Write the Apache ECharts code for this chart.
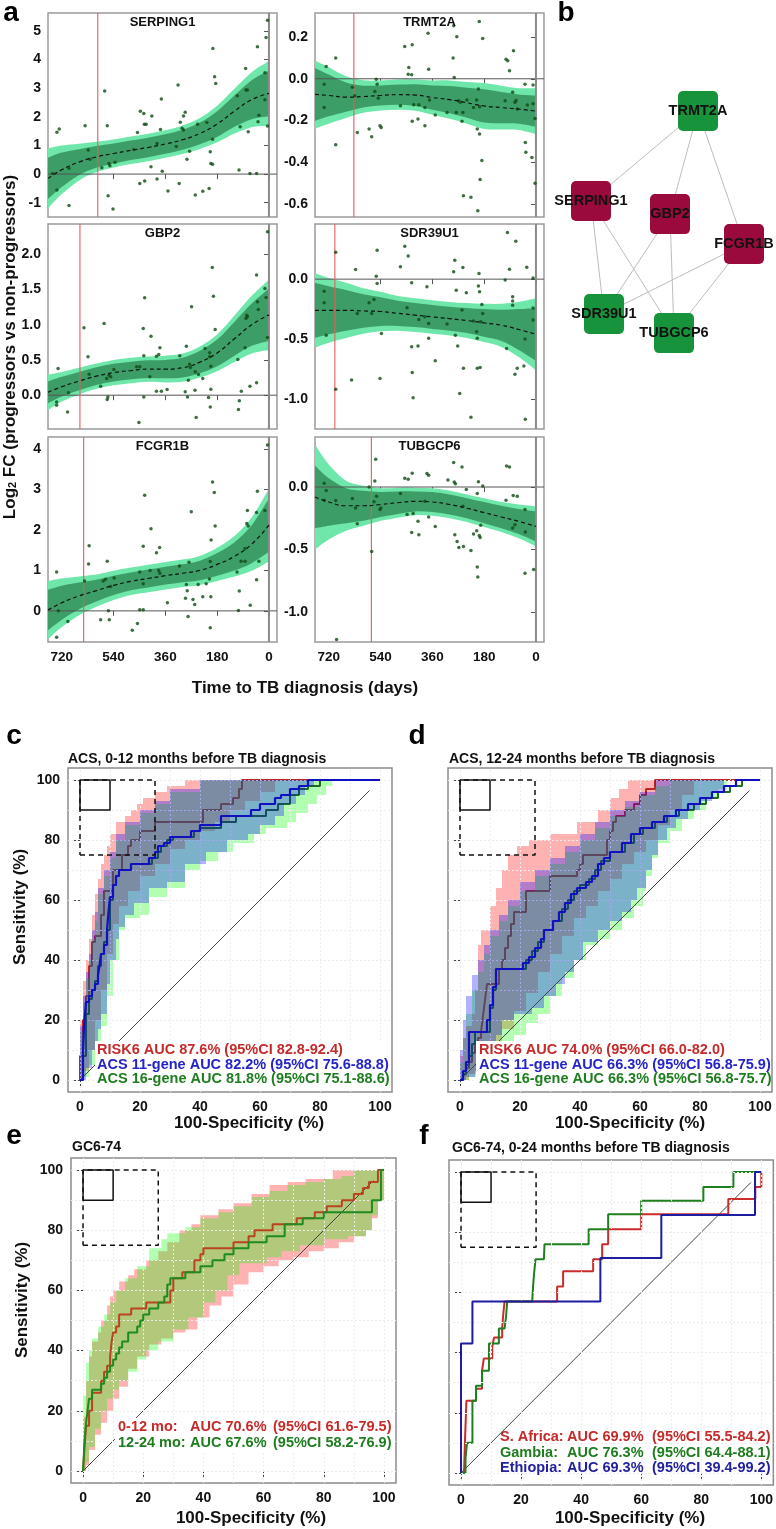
<!DOCTYPE html>
<html><head><meta charset="utf-8">
<script src="https://cdn.jsdelivr.net/npm/echarts@6.0.0/dist/echarts.min.js"></script>
<style>html,body{margin:0;padding:0;background:#fff;}#chart{width:776px;height:1529px;}</style>
</head><body><div id="chart"></div>
<script>
// ================= DATA : panel a =================
const dayTicks = [720, 540, 360, 180, 0];
const fitDays = [768,720,660,600,540,480,420,360,300,240,180,120,60,0];
const geneNames = ['SERPING1','TRMT2A','GBP2','SDR39U1','FCGR1B','TUBGCP6'];
const geneCutoffs = [595, 633, 657, 699, 644, 572];

const serping1Ticks = [-1,0,1,2,3,4,5];
const trmt2aTicks = [-0.6,-0.4,-0.2,0,0.2];
const gbp2Ticks = [0,0.5,1,1.5,2];
const sdr39u1Ticks = [-1,-0.5,0];
const fcgr1bTicks = [0,1,2,3,4];
const tubgcp6Ticks = [-1,-0.5,0];

const serping1Fit = [-0.15,0.15,0.42,0.6,0.72,0.83,0.93,1.05,1.2,1.42,1.75,2.2,2.6,2.82];
const serping1Inner = [0.72,0.6,0.45,0.38,0.35,0.34,0.34,0.34,0.35,0.38,0.45,0.55,0.68,0.8];
const serping1Outer = [1.05,0.85,0.64,0.53,0.49,0.48,0.48,0.48,0.5,0.54,0.64,0.78,0.96,1.13];
const serping1Points = [[752,0.02],[737,-0.56],[737,1.46],[729,1.58],[695,-1.1],[695,0.2],[639,1.69],[628,0.84],[622,0.52],[571,2.9],[562,1.69],[581,0.22],[559,-0.76],[556,0.37],[553,0.29],[542,-1.22],[535,0.41],[470,0.86],[457,1.45],[449,-0.33],[447,2.2],[435,2.12],[433,1.74],[427,1.74],[432,-0.24],[410,0.26],[407,2.03],[389,-0.17],[389,1.07],[377,1.56],[374,2.62],[371,0.1],[351,-0.59],[322,0.96],[316,3.11],[312,-0.33],[308,1.81],[302,1.6],[297,1.54],[297,2.03],[291,2.16],[285,0.52],[276,0.8],[256,-0.73],[248,1.74],[230,-0.6],[216,1.8],[208,-0.5],[204,0.78],[202,0.37],[196,1.22],[196,0.34],[195,4.39],[189,3.4],[185,3.17],[110,2.74],[104,0.14],[100,1.65],[81,3.69],[80,2.94],[75,2.94],[72,1.48],[66,0.02],[40,4.45],[43,0.02],[38,1.83],[35,2.06],[14,3.54],[14,2.6],[10,4.77],[5,5.38],[5,1.68]];

const trmt2aFit = [-0.075,-0.08,-0.088,-0.085,-0.08,-0.076,-0.078,-0.09,-0.1,-0.115,-0.13,-0.138,-0.145,-0.155];
const trmt2aInner = [0.127,0.1,0.07,0.052,0.048,0.048,0.052,0.058,0.065,0.072,0.08,0.075,0.07,0.075];
const trmt2aOuter = [0.163,0.135,0.1,0.078,0.072,0.072,0.075,0.082,0.092,0.1,0.11,0.105,0.1,0.11];
const trmt2aPoints = [[736,-0.026],[736,-0.137],[729,0.059],[696,0.099],[696,-0.316],[638,-0.041],[630,-0.081],[621,-0.257],[580,-0.241],[571,-0.278],[560,-0.061],[555,-0.002],[552,-0.026],[548,-0.093],[542,-0.225],[538,-0.233],[471,-0.129],[456,0.155],[444,0.022],[442,0.054],[432,0.019],[430,0.163],[430,-0.204],[425,-0.124],[410,-0.193],[407,-0.124],[386,-0.137],[386,-0.225],[375,0.218],[373,0.046],[370,-0.102],[350,-0.174],[309,-0.161],[288,0.099],[286,0.254],[284,0.006],[277,-0.161],[275,0.201],[269,-0.105],[263,-0.113],[257,-0.204],[254,-0.161],[252,-0.56],[240,-0.102],[226,-0.568],[217,-0.137],[206,-0.102],[204,-0.241],[202,-0.632],[200,-0.049],[197,0.274],[196,-0.134],[196,-0.265],[194,-0.483],[188,-0.392],[185,0.193],[107,-0.105],[104,0.094],[98,0.086],[92,0.038],[81,-0.065],[78,0.134],[73,-0.113],[65,-0.145],[38,-0.026],[37,-0.305],[35,-0.352],[30,-0.126],[10,-0.03],[10,-0.12],[3,-0.19],[14,-0.377],[3,-0.5],[69,-0.104]];

const gbp2Fit = [0.04,0.12,0.2,0.27,0.32,0.35,0.37,0.37,0.39,0.47,0.6,0.8,1.0,1.14];
const gbp2Inner = [0.155,0.14,0.13,0.125,0.125,0.125,0.125,0.13,0.14,0.16,0.19,0.24,0.3,0.37];
const gbp2Outer = [0.25,0.21,0.19,0.18,0.18,0.18,0.18,0.19,0.2,0.22,0.26,0.33,0.41,0.5];
const gbp2Points = [[733,0.379],[738,-0.095],[738,-0.142],[700,-0.237],[697,0.033],[643,0.956],[629,0.545],[625,0.298],[585,0.128],[573,1.018],[564,0.237],[560,-0.024],[562,-0.062],[556,0.284],[550,0.26],[539,0.365],[460,0.402],[449,0.402],[452,-0.388],[437,0.947],[435,0.559],[435,-0.024],[432,1.383],[414,0.26],[410,0.838],[391,0.554],[391,0.057],[379,0.672],[383,0.578],[374,0.057],[354,0.08],[310,0.559],[291,0.047],[287,0.696],[283,-0.024],[280,0.213],[276,0.44],[273,0.393],[269,1.255],[257,0.071],[253,-0.317],[256,0.331],[245,0.294],[230,0.237],[222,0.663],[210,-0.033],[206,0.545],[206,0.601],[204,-0.166],[202,0.085],[202,0.412],[197,1.813],[193,1.406],[187,0.933],[108,0.507],[106,-0.204],[103,-0.08],[96,0.057],[83,0.672],[80,1.089],[77,1.136],[75,1.113],[66,0.128],[43,1.705],[43,0.175],[37,1.217],[40,1.326],[14,1.515],[10,1.387],[5,0.82],[5,2.32]];

const sdr39u1Fit = [-0.26,-0.26,-0.26,-0.265,-0.27,-0.285,-0.3,-0.315,-0.33,-0.345,-0.365,-0.385,-0.42,-0.46];
const sdr39u1Inner = [0.23,0.2,0.17,0.14,0.12,0.105,0.1,0.1,0.1,0.105,0.115,0.13,0.17,0.22];
const sdr39u1Outer = [0.31,0.27,0.23,0.19,0.165,0.145,0.14,0.14,0.14,0.145,0.16,0.18,0.23,0.3];
const sdr39u1Points = [[736,-0.1],[736,-0.197],[729,-0.467],[696,-0.919],[641,-0.842],[627,0.081],[621,-0.286],[580,-0.197],[571,-0.286],[563,-0.169],[555,0.025],[552,-0.036],[542,-0.828],[537,-0.453],[471,0.103],[448,-0.239],[432,-0.031],[432,-0.564],[430,-0.778],[427,-0.989],[410,-0.558],[407,-0.336],[386,-0.314],[379,-0.064],[373,-0.369],[373,-0.494],[350,-0.681],[309,-0.375],[286,0.061],[280,-0.467],[277,-0.092],[272,-0.558],[265,-0.953],[257,-0.258],[254,0.097],[252,-0.744],[242,-0.114],[226,-1.153],[217,-0.35],[206,-0.439],[204,-0.494],[204,-0.744],[200,-0.058],[198,0.047],[196,-0.106],[194,-0.736],[192,-0.356],[188,-0.211],[185,-0.286],[107,-0.008],[102,-0.578],[92,0.083],[81,-0.147],[81,-0.183],[81,-0.217],[73,-0.794],[65,-0.744],[42,-0.725],[38,-0.5],[37,-1.169],[696,0.224],[552,0.242],[456,0.275],[444,0.194],[282,0.158],[99,0.39],[70,0.317],[32,0.1],[10,0.01],[10,-0.24],[10,-0.34]];

const fcgr1bFit = [0.02,0.2,0.37,0.5,0.63,0.73,0.8,0.87,0.93,1.0,1.15,1.35,1.65,2.12];
const fcgr1bInner = [0.5,0.42,0.33,0.27,0.24,0.22,0.22,0.22,0.22,0.24,0.28,0.35,0.47,0.66];
const fcgr1bOuter = [0.72,0.6,0.48,0.4,0.36,0.34,0.34,0.34,0.34,0.36,0.41,0.5,0.66,0.9];
const fcgr1bPoints = [[5,4.1],[432,2.86],[410,2.03],[437,1.6],[625,1.61],[380,1.57],[391,1.44],[270,2.45],[196,3.19],[190,2.93],[187,2.1],[201,1.75],[77,2.16],[75,2.48],[72,2.1],[40,2.96],[43,2.43],[14,2.48],[738,0.96],[738,-0.65],[732,0],[699,-0.26],[627,1.16],[641,0.74],[585,-0.22],[576,0.74],[562,1.23],[568,0.78],[558,0],[555,-0.22],[550,0.6],[538,0.81],[475,-0.48],[457,-0.31],[449,0.03],[437,0.03],[449,0.96],[437,0.67],[413,1.0],[383,1.0],[379,0.93],[353,0.2],[311,1.11],[290,0.31],[287,0.65],[284,0.5],[281,-0.14],[278,1.2],[264,0.28],[258,0.16],[246,0.65],[230,0.35],[218,0.67],[207,0.79],[204,1.22],[202,0.35],[204,-0.42],[111,0.96],[106,0.01],[103,0.49],[97,1.23],[83,1.23],[83,1.54],[65,0.14],[43,0.77],[35,1.23]];

const tubgcp6Fit = [-0.08,-0.12,-0.15,-0.15,-0.14,-0.125,-0.115,-0.12,-0.14,-0.17,-0.205,-0.24,-0.275,-0.315];
const tubgcp6Inner = [0.25,0.19,0.14,0.12,0.1,0.09,0.08,0.08,0.08,0.08,0.085,0.09,0.1,0.12];
const tubgcp6Outer = [0.42,0.3,0.2,0.16,0.13,0.12,0.11,0.11,0.11,0.11,0.115,0.12,0.135,0.16];
const tubgcp6Points = [[736,0.03],[729,-0.027],[736,-0.105],[696,-0.108],[638,-0.091],[627,-0.167],[621,-0.293],[580,0.0],[571,-0.516],[563,-0.118],[560,0.048],[557,0.223],[554,-0.073],[542,-0.18],[539,-0.167],[471,-0.051],[456,0.07],[444,0.062],[430,0.11],[448,-0.22],[432,-0.363],[427,-0.212],[410,-0.274],[407,-0.382],[386,-0.113],[379,0.108],[373,0.094],[373,-0.239],[350,-0.315],[306,0.056],[286,0.196],[284,0.04],[280,0.027],[282,-0.382],[274,-0.435],[268,-0.484],[257,0.161],[254,-0.153],[252,-0.476],[242,-0.019],[226,-0.508],[217,-0.376],[206,-0.349],[204,-0.051],[200,0.043],[197,-0.387],[194,-0.403],[192,-0.306],[185,0.008],[102,0.169],[92,0.161],[104,-0.105],[79,-0.067],[65,-0.073],[81,-0.328],[73,-0.301],[38,-0.18],[37,-0.36],[693,-1.22],[204,-0.64],[202,-0.72],[38,-0.69],[8,-0.66]];

// ================= DATA : panel b =================
const netNodes = ['TRMT2A','SERPING1','GBP2','FCGR1B','SDR39U1','TUBGCP6'];
const netUp = [false, true, true, true, false, false];
const netX = [69, 15.5, 55, 92, 22, 57];
const netY = [88.9, 56.8, 52.1, 41.4, 16.4, 9.6];
const netLinks = [['TRMT2A','SERPING1'],['TRMT2A','GBP2'],['TRMT2A','FCGR1B'],['SERPING1','SDR39U1'],['SERPING1','TUBGCP6'],['GBP2','SDR39U1'],['GBP2','TUBGCP6'],['FCGR1B','SDR39U1'],['FCGR1B','TUBGCP6']];

// ================= DATA : ROC panels =================
const rocTicks = [0,20,40,60,80,100];
const rocGridVals = [0,10,20,30,40,50,60,70,80,90,100];
const rocDiagonal = [[0,0],[96.5,96.5]];
const insetFull = [[0,90],[10,90],[10,100],[0,100],[0,90]];
const insetZoom = [[0,75],[25,75],[25,100],[0,100],[0,75]];

const cRisk6 = [[0,0],[0,8],[1,15],[1,20],[2,22],[2,28],[3,30],[3,38],[4,42],[4,46],[5,48],[7,48],[7,55],[8,60],[8,63],[10,63],[11,70],[14,70],[14,75],[16,78],[17,80],[19,80],[20,83],[24,83],[25,86],[41,86],[41,90],[47,92],[51,94],[53,97],[54,100],[100,100]];
const cAcs11 = [[0,0],[1,10],[1.5,20],[2,26],[3,28],[4,30],[5,32],[6,35],[6.5,38],[7,42],[8,45],[9,50],[9.5,56],[10,61],[11,65],[12,68],[13,70],[17,70],[17,72],[23,72],[23,74],[25,76],[26,78],[28,79],[30,81],[37,81],[37,83],[40,85],[47,85],[47,88],[55,88],[57,90],[60,92],[65,94],[67,95],[70,97],[73,98],[76,100],[100,100]];
const cAcs16 = [[0,0],[1,8],[2,15],[2,22],[3,27],[4,30],[5,33],[6,38],[7,42],[8,46],[9,50],[10,55],[10,60],[11,65],[12,68],[13,70],[17,70],[17,72],[22,72],[24,74],[26,76],[27,78],[29,80],[31,81],[38,81],[38,83],[40,84],[47,84],[47,86],[52,88],[58,88],[62,90],[66,92],[70,95],[73,97],[76,98],[80,100],[100,100]];
const cRisk6Up = [[0,0],[0,13],[1,20],[2,33],[3,40],[4,47],[5,55],[6,62],[7,67],[8,72],[9,75],[10,78],[12,82],[15,86],[17,88],[19,90],[21,92],[25,94],[29,96],[35,98],[42,100],[100,100]];
const cRisk6Lo = [[0,0],[1,3],[3,10],[5,20],[7,30],[9,42],[11,52],[13,58],[16,63],[20,68],[25,72],[30,77],[35,80],[40,83],[45,86],[50,90],[55,93],[60,96],[65,100],[100,100]];
const cAcs11Up = [[0,0],[0,10],[1,18],[2,28],[3,36],[4,42],[5,50],[6,56],[8,64],[10,70],[12,76],[15,82],[20,86],[25,90],[30,93],[40,97],[48,100],[100,100]];
const cAcs11Lo = [[0,0],[2,4],[4,10],[6,17],[7,22],[9,32],[10,40],[12,47],[13,51],[15,55],[18,59],[23,64],[29,66],[35,72],[42,76],[49,80],[56,82],[60,85],[65,88],[68,92],[72,95],[75,98],[78,100],[100,100]];
const cAcs16Up = [[0,0],[0,8],[1,16],[2,26],[3,34],[4,40],[5,47],[6,53],[8,62],[10,68],[12,74],[15,80],[20,85],[25,89],[30,92],[40,96],[50,100],[100,100]];
const cAcs16Lo = [[0,0],[1,1],[3,5],[5,10],[7,18],[9,28],[11,40],[13,50],[15,54],[20,55],[23,61],[29,64],[35,70],[40,73],[46,76],[51,79],[58,82],[62,84],[69,86],[72,89],[76,92],[79,95],[82,98],[84,100],[100,100]];

const dRisk6 = [[0,0],[1,2],[2,4],[3,6],[4,9],[5,12],[6,14],[7,16],[7.5,20],[8,24],[8.5,28],[9,32],[12,32],[13,37],[14,40],[15,44],[16,48],[17,52],[18,56],[22,56],[22,63],[29,63],[30,68],[38,68],[39,70],[40,72],[41,75],[48,75],[49,80],[50,83],[51,86],[52,88],[55,90],[58,92],[60,95],[62,97],[65,100],[100,100]];
const dAcs11 = [[0,0],[1,3],[2,6],[3,9],[3,16],[9,16],[9,20],[10,25],[11,31],[12,37],[19,37],[21,39],[23,41],[25,44],[27,47],[28,50],[31,53],[33,56],[35,59],[37,62],[39,64],[42,66],[44,68],[46,72],[48,74],[50,76],[54,79],[57,82],[60,84],[64,86],[68,88],[72,90],[76,92],[80,94],[84,96],[88,98],[92,100],[100,100]];
const dAcs16 = [[0,0],[1,2],[2,5],[3,8],[4,12],[5,16],[9,16],[10,24],[11,30],[12,37],[19,37],[22,40],[24,43],[26,46],[28,50],[31,53],[34,57],[36,60],[38,63],[40,65],[43,67],[45,70],[47,73],[50,76],[55,79],[58,82],[61,84],[65,86],[69,88],[73,90],[78,92],[82,94],[86,96],[90,98],[94,100],[100,100]];
const dRisk6Up = [[0,0],[1,8],[2,14],[4,18],[5,22],[6,30],[7,45],[10,50],[12,58],[14,64],[16,70],[19,75],[23,78],[30,80],[39,82],[46,86],[50,90],[53,94],[56,97],[58,100],[100,100]];
const dRisk6Lo = [[0,0],[3,2],[6,5],[10,10],[14,17],[18,23],[22,29],[26,36],[30,42],[34,48],[38,54],[42,58],[46,63],[50,67],[54,72],[58,76],[62,80],[66,85],[70,90],[74,95],[78,100],[100,100]];
const dAcs11Up = [[0,0],[1,10],[2,20],[4,28],[6,35],[8,40],[10,45],[13,50],[16,55],[20,60],[25,66],[30,70],[35,74],[40,78],[45,82],[50,86],[55,90],[60,93],[65,96],[70,100],[100,100]];
const dAcs11Lo = [[0,0],[2,1],[5,3],[8,6],[10,10],[12,15],[14,20],[18,22],[24,24],[28,28],[32,32],[35,36],[38,40],[41,46],[46,50],[50,53],[54,56],[57,60],[59,64],[62,70],[64,75],[66,80],[69,84],[72,87],[76,90],[80,93],[84,96],[88,100],[100,100]];
const dAcs16Up = [[0,0],[1,6],[2,14],[4,22],[6,30],[8,36],[10,42],[13,48],[16,53],[20,58],[25,63],[30,68],[35,72],[40,76],[45,80],[50,84],[55,88],[60,91],[65,95],[70,98],[72,100],[100,100]];
const dAcs16Lo = [[0,0],[3,1],[6,3],[10,6],[14,10],[18,15],[22,19],[26,22],[30,28],[34,34],[38,40],[42,45],[46,47],[50,50],[54,54],[58,58],[61,63],[62,68],[64,74],[66,79],[70,83],[74,87],[78,90],[82,94],[86,97],[89,100],[100,100]];

const e012 = [[0,0],[0.5,8],[1,15],[2,20],[3,26],[5,26],[6,30],[7,33],[8,35],[9,38],[9.5,43],[10,46],[11,48],[12,52],[16,52],[16,54],[20,54],[21,56],[28,56],[29,60],[30,64],[32,64],[33,66],[35,66],[37,70],[39,72],[40,74],[49,74],[50,76],[54,76],[55,78],[57,80],[62,80],[63,82],[70,82],[71,84],[75,84],[77,86],[80,86],[81,88],[84,88],[86,90],[90,92],[93,94],[95,96],[97,96],[98,100],[100,100]];
const e1224 = [[0,0],[0.5,10],[1,16],[1.5,20],[2,24],[3,27],[5,27],[6,29],[7,31],[8,33],[9,35],[10,37],[11,39],[12,41],[13,43],[15,46],[17,46],[18,48],[19,50],[20,52],[22,54],[25,56],[27,58],[28,62],[29,64],[34,64],[34,66],[38,66],[39,68],[43,68],[43,70],[46,70],[47,72],[50,72],[50,74],[54,74],[55,76],[60,76],[61,78],[67,78],[67,82],[72,82],[73,84],[78,84],[80,86],[95,86],[96,90],[98,90],[99,100],[100,100]];
const e012Up = [[0,0],[0,5],[1,18],[2,30],[3,38],[5,43],[6,46],[8,50],[9,55],[10,58],[12,60],[15,63],[17,65],[21,67],[25,70],[28,73],[32,76],[36,80],[39,82],[45,85],[50,87],[56,89],[62,92],[68,95],[74,96],[83,97],[87,100],[100,100]];
const e012Lo = [[0,0],[1,2],[2,7],[4,12],[6,16],[8,20],[10,24],[12,28],[15,34],[18,38],[22,42],[26,44],[30,46],[34,47],[38,51],[42,55],[46,58],[50,62],[55,66],[60,68],[65,70],[70,71],[75,73],[80,74],[85,76],[90,78],[94,80],[96,84],[98,90],[100,100]];
const e1224Up = [[0,0],[0,10],[1,25],[2,36],[3,40],[5,44],[7,48],[9,52],[11,56],[14,60],[18,64],[22,68],[26,74],[28,77],[34,79],[39,81],[45,84],[50,86],[56,88],[62,91],[68,93],[74,95],[80,96],[86,97],[90,98],[93,100],[100,100]];
const e1224Lo = [[0,0],[1,3],[2,8],[4,14],[6,20],[8,24],[10,27],[12,30],[15,33],[18,37],[21,40],[25,43],[30,47],[35,51],[40,56],[44,60],[48,65],[52,69],[61,71],[66,73],[72,75],[80,77],[88,78],[94,80],[96,85],[98,90],[100,100]];

const fSAfrica = [[0,0],[1,0],[1.3,10],[1.8,24],[3.8,24],[5,28],[7,34],[7.6,38],[10.4,42],[11,45],[13.7,48],[14,52],[14.5,57],[32,57],[32,62],[34,62],[34,67],[44,67],[44,71],[47,71],[47,76],[49,76],[49,81],[60,81],[60,86],[89,86],[89,91],[98,91],[98,95],[100,95],[100,100]];
const fGambia = [[0,0],[1.5,0],[1.5,5],[2,10],[3.8,19],[3.8,24],[5,24],[5,29],[7,29],[7,34],[9.3,38],[9.3,43],[12.6,43],[12.6,48],[14.5,48],[15,52],[15.4,57],[23.7,57],[24,62],[24.3,66],[24.8,71],[27.6,71],[27.8,76],[42.5,76],[42.5,81],[49,81],[49,86],[60,86],[60,90.5],[80.7,90.5],[80.7,95],[90.7,95],[90.7,100],[100,100]];
const fEthiopia = [[0,0],[0,43],[3.8,43],[3.8,57],[46.4,57],[46.4,71.4],[66.7,71.4],[66.7,85.7],[97.9,85.7],[97.9,100],[100,100]];

// ================= BUILD =================
const FONT = '"Liberation Sans", Arial, sans-serif';
const RED = '#c62a2a', BLUE = '#2424c8', GREEN = '#1e7d1e';
const grids = [], xAxes = [], yAxes = [], series = [], graphics = [];
const lbl = (size, extra) => Object.assign({fontFamily: FONT, fontWeight: 'bold', fontSize: size, color: '#111'}, extra || {});

function text(x, y, str, size, color, align, opts) {
  const st = {text: str, font: 'bold ' + size + 'px ' + FONT, fill: color || '#111',
    textAlign: align || 'left', align: align || 'left', textVerticalAlign: 'middle', verticalAlign: 'middle'};
  graphics.push(Object.assign({type: 'text', x: x, y: y, z: 100, silent: true, style: st}, opts || {}));
}

// smooth path (Catmull-Rom as cubic Bezier) through pixel points
function bezierThrough(pts, first) {
  let d = first ? 'M' + pts[0][0] + ',' + pts[0][1] : 'L' + pts[0][0] + ',' + pts[0][1];
  for (let k = 0; k < pts.length - 1; k++) {
    const p0 = pts[Math.max(k - 1, 0)], p1 = pts[k], p2 = pts[k + 1], p3 = pts[Math.min(k + 2, pts.length - 1)];
    const c1 = [p1[0] + (p2[0] - p0[0]) / 6, p1[1] + (p2[1] - p0[1]) / 6];
    const c2 = [p2[0] - (p3[0] - p1[0]) / 6, p2[1] - (p3[1] - p1[1]) / 6];
    d += 'C' + c1[0] + ',' + c1[1] + ',' + c2[0] + ',' + c2[1] + ',' + p2[0] + ',' + p2[1];
  }
  return d;
}

// ---- panel a ----
const geneFit = [serping1Fit, trmt2aFit, gbp2Fit, sdr39u1Fit, fcgr1bFit, tubgcp6Fit];
const geneInner = [serping1Inner, trmt2aInner, gbp2Inner, sdr39u1Inner, fcgr1bInner, tubgcp6Inner];
const geneOuter = [serping1Outer, trmt2aOuter, gbp2Outer, sdr39u1Outer, fcgr1bOuter, tubgcp6Outer];
const genePoints = [serping1Points, trmt2aPoints, gbp2Points, sdr39u1Points, fcgr1bPoints, tubgcp6Points];
const geneTicks = [serping1Ticks, trmt2aTicks, gbp2Ticks, sdr39u1Ticks, fcgr1bTicks, tubgcp6Ticks];
const geneDecimals = [0, 1, 1, 1, 0, 1];
const geneYMin = [-1.5, -0.662, -0.48, -1.25, -0.77, -1.24];
const geneYMax = [5.63, 0.315, 2.43, 0.46, 4.3, 0.40];
const aLeft = [48, 315], aTop = [13, 224, 437], aH = [204, 205, 205], aW = 229;

function gamBand(i, half, color) {
  const f = geneFit[i];
  series.push({type: 'custom', xAxisIndex: i, yAxisIndex: i, silent: true, z: 2, data: [[fitDays[0], f[0]]],
    renderItem: (params, api) => {
      const up = f.map((v, k) => api.coord([fitDays[k], v + half[k]]));
      const lo = f.map((v, k) => api.coord([fitDays[k], v - half[k]])).reverse();
      return {type: 'path', shape: {pathData: bezierThrough(up, true) + bezierThrough(lo, false) + 'Z'}, style: {fill: color}};
    }});
}
function refLine(i, pts, color, w) {
  series.push({type: 'line', xAxisIndex: i, yAxisIndex: i, data: pts, symbol: 'none', silent: true, z: 3, lineStyle: {color: color, width: w}});
}

geneNames.forEach((name, i) => {
  const col = i % 2, row = Math.floor(i / 2);
  grids.push({left: aLeft[col], top: aTop[row], width: aW, height: aH[row], show: true, borderColor: '#9a9a9a', borderWidth: 1.5, backgroundColor: 'transparent'});
  xAxes.push({gridIndex: i, type: 'value', min: -28, max: 768, inverse: true,
    axisLine: {show: false}, splitLine: {show: false},
    axisTick: {show: true, customValues: dayTicks, length: 5, lineStyle: {color: '#555'}},
    axisLabel: Object.assign({show: row === 2, customValues: dayTicks, margin: 8}, lbl(13.5))});
  yAxes.push({gridIndex: i, type: 'value', min: geneYMin[i], max: geneYMax[i],
    axisLine: {show: false}, splitLine: {show: false},
    axisTick: {show: true, customValues: geneTicks[i], length: 5, lineStyle: {color: '#555'}},
    axisLabel: Object.assign({customValues: geneTicks[i], margin: 7,
      formatter: v => geneDecimals[i] ? Number(v).toFixed(1) : String(Math.round(v))}, lbl(14))});
  gamBand(i, geneOuter[i], '#6fe6aa');
  gamBand(i, geneInner[i], '#3c9e66');
  refLine(i, [[768, 0], [-28, 0]], '#555', 1);
  refLine(i, [[0, geneYMin[i]], [0, geneYMax[i]]], '#8a8a8a', 2);
  refLine(i, [[geneCutoffs[i], geneYMin[i]], [geneCutoffs[i], geneYMax[i]]], '#e45c5c', 1.1);
  series.push({type: 'scatter', xAxisIndex: i, yAxisIndex: i, symbolSize: 3.5, silent: true, z: 4,
    itemStyle: {color: '#104a14'}, data: genePoints[i]});
  series.push({type: 'line', xAxisIndex: i, yAxisIndex: i, smooth: true, symbol: 'none', silent: true, z: 5,
    lineStyle: {color: '#111', width: 1.2, type: [4, 3]}, data: geneFit[i].map((v, k) => [fitDays[k], v])});
  text(aLeft[col] + aW / 2, aTop[row] + 9, name, 13, '#111', 'center');
});

// ---- panel b (network) ----
const NG = 6;
grids.push({left: 560, top: 80, width: 200, height: 280, show: false});
xAxes.push({gridIndex: NG, type: 'value', min: 0, max: 100, show: false});
yAxes.push({gridIndex: NG, type: 'value', min: 0, max: 100, show: false});
series.push({type: 'graph', coordinateSystem: 'cartesian2d', xAxisIndex: NG, yAxisIndex: NG, silent: true,
  symbol: 'path://M5,0 H35 A5,5 0 0 1 40,5 V35 A5,5 0 0 1 35,40 H5 A5,5 0 0 1 0,35 V5 A5,5 0 0 1 5,0 Z',
  symbolSize: 40,
  data: netNodes.map((n, k) => ({name: n, value: [netX[k], netY[k]], itemStyle: {color: netUp[k] ? '#9b0a3c' : '#17933b'}})),
  links: netLinks.map(l => ({source: l[0], target: l[1]})),
  lineStyle: {color: '#bdbdbd', width: 1, opacity: 1, curveness: 0},
  label: Object.assign({show: true, position: 'inside'}, lbl(14.5, {color: '#111'}))});

// ---- ROC panels ----
const rocBoxes = [{left: 68, top: 768, size: 324}, {left: 448, top: 768, size: 324}, {left: 71, top: 1158, size: 325}, {left: 449, top: 1160, size: 325}];
function stepUp(p) { const o = [p[0]]; for (let k = 1; k < p.length; k++) { o.push([p[k - 1][0], p[k][1]]); o.push(p[k]); } return o; }
function stepLo(p) { const o = [p[0]]; for (let k = 1; k < p.length; k++) { o.push([p[k][0], p[k - 1][1]]); o.push(p[k]); } return o; }
let zc = 2;
function rocBand(g, up, lo, color) {
  const poly = stepUp(up).concat(stepLo(lo).reverse());
  series.push({type: 'custom', xAxisIndex: g, yAxisIndex: g, silent: true, z: zc++, data: [[0, 0]],
    renderItem: (params, api) => ({type: 'polygon', shape: {points: poly.map(q => api.coord(q))}, style: {fill: color}})});
}
function rocLine(g, pts, color, w) {
  series.push({type: 'line', xAxisIndex: g, yAxisIndex: g, data: pts, step: 'end', symbol: 'none', silent: true, z: zc++, lineStyle: {color: color, width: w || 2}});
}
function rocSetup(idx, showY) {
  const g = 7 + idx, b = rocBoxes[idx];
  zc = 2;
  grids.push({left: b.left, top: b.top, width: b.size, height: b.size, show: true, borderColor: '#8c8c8c', borderWidth: 1.5, backgroundColor: 'transparent'});
  xAxes.push({gridIndex: g, type: 'value', min: -4, max: 104, axisLine: {show: false}, splitLine: {show: false},
    axisTick: {show: true, customValues: rocTicks, length: 6, lineStyle: {color: '#444'}},
    axisLabel: Object.assign({customValues: rocTicks, margin: 8}, lbl(14))});
  yAxes.push({gridIndex: g, type: 'value', min: -4, max: 104, axisLine: {show: false}, splitLine: {show: false},
    axisTick: {show: true, customValues: rocTicks, length: 6, lineStyle: {color: '#444'}},
    axisLabel: Object.assign({show: showY, customValues: rocTicks, margin: 8}, lbl(14))});
  series.push({type: 'line', xAxisIndex: g, yAxisIndex: g, data: [[0, 0]], symbol: 'none', silent: true, z: 1, lineStyle: {opacity: 0},
    markLine: {silent: true, symbol: ['none', 'none'], label: {show: false}, animation: false, emphasis: {disabled: true},
      lineStyle: {color: '#ececec', width: 1, type: [2, 2]},
      data: rocGridVals.map(v => ({xAxis: v})).concat(rocGridVals.map(v => ({yAxis: v})))}});
  return g;
}
function rocDecor(g) {
  series.push({type: 'line', xAxisIndex: g, yAxisIndex: g, data: rocDiagonal, symbol: 'none', silent: true, z: zc++, lineStyle: {color: '#444', width: 1}});
}
function rocInsets(g) {
  series.push({type: 'line', xAxisIndex: g, yAxisIndex: g, data: insetZoom, symbol: 'none', silent: true, z: 40, lineStyle: {color: '#111', width: 1.5, type: [5, 4]}});
  series.push({type: 'line', xAxisIndex: g, yAxisIndex: g, data: insetFull, symbol: 'none', silent: true, z: 41, lineStyle: {color: '#111', width: 1.5}});
}
const BR = 'rgba(255,0,0,0.3)', BG = 'rgba(0,255,0,0.3)', BB = 'rgba(0,0,255,0.3)';

// c
let g = rocSetup(0, true);
rocBand(g, cRisk6Up, cRisk6Lo, BR); rocLine(g, cRisk6, '#c02525', 2);
rocBand(g, cAcs16Up, cAcs16Lo, BG); rocLine(g, cAcs16, '#1e6e1e', 2);
rocBand(g, cAcs11Up, cAcs11Lo, BB); rocDecor(g); rocLine(g, cAcs11, '#1010c0', 2.2);
rocInsets(g);
// d
g = rocSetup(1, false);
rocBand(g, dRisk6Up, dRisk6Lo, BR); rocLine(g, dRisk6, '#c02525', 2);
rocBand(g, dAcs16Up, dAcs16Lo, BG); rocLine(g, dAcs16, '#1e6e1e', 2);
rocBand(g, dAcs11Up, dAcs11Lo, BB); rocDecor(g); rocLine(g, dAcs11, '#1010c0', 2.2);
rocInsets(g);
// e
g = rocSetup(2, true);
rocBand(g, e012Up, e012Lo, BR);
rocBand(g, e1224Up, e1224Lo, BG);
rocDecor(g);
rocLine(g, e012, '#b9441f', 2); rocLine(g, e1224, '#1f8a1f', 2);
rocInsets(g);
// f
g = rocSetup(3, false);
rocDecor(g);
rocLine(g, fSAfrica, '#cc2b2b', 2); rocLine(g, fGambia, '#1f7f1f', 2); rocLine(g, fEthiopia, '#1d1da0', 2);
rocInsets(g);

// ---- texts ----
text(11, 13, 'a', 28, '#000', 'center');
text(566, 13, 'b', 28, '#000', 'center');
text(14, 736, 'c', 28, '#000', 'center');
text(417, 736, 'd', 28, '#000', 'center');
text(14, 1136, 'e', 28, '#000', 'center');
text(424, 1136, 'f', 28, '#000', 'center');

graphics.push({type: 'text', x: 10, y: 347, rotation: Math.PI / 2, z: 100, silent: true,
  style: {text: 'Log{s|2} FC (progressors vs non-progressors)', font: 'bold 17px ' + FONT, fill: '#111',
    textAlign: 'center', align: 'center', textVerticalAlign: 'middle', verticalAlign: 'middle',
    rich: {s: {font: 'bold 11px ' + FONT, fill: '#111', verticalAlign: 'bottom', padding: [6, 0, 0, 0]}}}});
text(305, 688, 'Time to TB diagnosis (days)', 17, '#111', 'center');

text(68, 759, 'ACS, 0-12 months before TB diagnosis', 14, '#111', 'left');
text(449, 759, 'ACS, 12-24 months before TB diagnosis', 14, '#111', 'left');
text(72, 1147, 'GC6-74', 14, '#111', 'left');
text(452, 1148, 'GC6-74, 0-24 months before TB diagnosis', 14, '#111', 'left');

text(249, 1123, '100-Specificity (%)', 17, '#111', 'center');
text(630, 1123, '100-Specificity (%)', 17, '#111', 'center');
text(251, 1518, '100-Specificity (%)', 17, '#111', 'center');
text(630, 1518, '100-Specificity (%)', 17, '#111', 'center');
text(20, 907, 'Sensitivity (%)', 17, '#111', 'center', {rotation: Math.PI / 2});
text(22, 1300, 'Sensitivity (%)', 17, '#111', 'center', {rotation: Math.PI / 2});

// legends
function box(x, y, w, h) { graphics.push({type: 'rect', z: 99, silent: true, shape: {x: x, y: y, width: w, height: h}, style: {fill: '#fff'}}); }
box(95, 1041, 295, 47);
text(97, 1050, 'RISK6 AUC 87.6% (95%CI 82.8-92.4)', 14.5, RED);
text(97, 1065, 'ACS 11-gene AUC 82.2% (95%CI 75.6-88.8)', 14.5, BLUE);
text(97, 1079, 'ACS 16-gene AUC 81.8% (95%CI 75.1-88.6)', 14.5, GREEN);
box(476, 1041, 294, 47);
text(479, 1050, 'RISK6 AUC 74.0% (95%CI 66.0-82.0)', 14.5, RED);
text(479, 1065, 'ACS 11-gene AUC 66.3% (95%CI 56.8-75.9)', 14.5, BLUE);
text(479, 1079, 'ACS 16-gene AUC 66.3% (95%CI 56.8-75.7)', 14.5, GREEN);
box(115, 1418, 279, 34);
text(118, 1427, '0-12 mo:', 14.5, RED); text(190, 1427, 'AUC 70.6%', 14.5, RED); text(273, 1427, '(95%CI 61.6-79.5)', 14.5, RED);
text(118, 1443, '12-24 mo:', 14.5, GREEN); text(190, 1443, 'AUC 67.6%', 14.5, GREEN); text(273, 1443, '(95%CI 58.2-76.9)', 14.5, GREEN);
text(500, 1437, 'S. Africa:', 14.5, RED); text(567, 1437, 'AUC 69.9%', 14.5, RED); text(652, 1437, '(95%CI 55.5-84.2)', 14.5, RED);
text(500, 1453, 'Gambia:', 14.5, GREEN); text(567, 1453, 'AUC 76.3%', 14.5, GREEN); text(652, 1453, '(95%CI 64.4-88.1)', 14.5, GREEN);
text(500, 1468, 'Ethiopia:', 14.5, '#22229e'); text(567, 1468, 'AUC 69.3%', 14.5, '#22229e'); text(652, 1468, '(95%CI 39.4-99.2)', 14.5, '#22229e');

const chart = echarts.init(document.getElementById('chart'), null, {renderer: 'canvas', width: 776, height: 1529});
chart.setOption({animation: false, backgroundColor: '#fff', grid: grids, xAxis: xAxes, yAxis: yAxes, series: series, graphic: graphics});
</script></body></html>
